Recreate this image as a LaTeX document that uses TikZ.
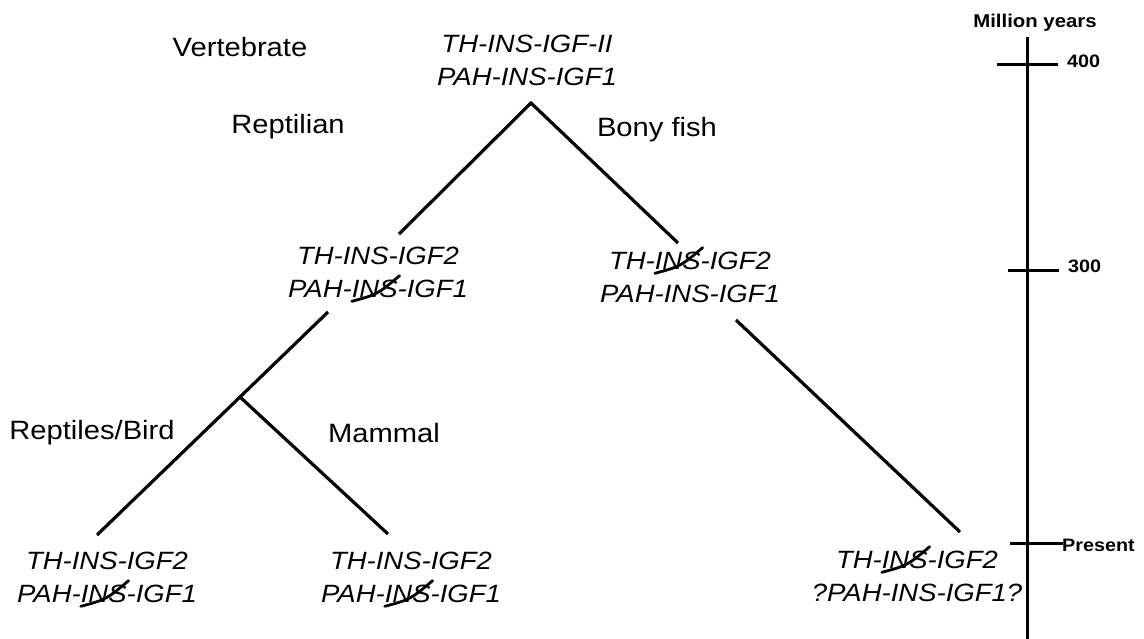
\documentclass[tikz,border=0pt]{standalone}
\usepackage{fontspec}
\setmainfont{Liberation Sans}[FakeStretch=1.1]
\usetikzlibrary{calc}

% a gene name struck through by a hand-drawn stroke
\newcommand\lostgene[1]{\tikz[x=1pt,y=1pt,baseline=(w.base)]{%
  \node[inner sep=0pt,outer sep=0pt] (w) {#1};%
  \draw[overlay,line width=2.8pt,line cap=round]
    ($(w.south west)+(0,-4)$) .. controls ($(w.south west)!0.45!(w.north east)+(5,-5)$) .. ($(w.north east)+(2,4)$);}}

\begin{document}
\begin{tikzpicture}[x=1pt,y=-1pt,
  gene/.style={font=\fontsize{25}{33}\selectfont\itshape, align=center, inner sep=0pt},
  clade/.style={font=\fontsize{26.5}{30}\selectfont, inner sep=0pt},
  branch/.style={line width=3.2pt},
  scalebar/.style={line width=3pt},
  agelabel/.style={font=\fontsize{18}{21}\selectfont\bfseries, inner sep=0pt, anchor=west},
]
\useasboundingbox (0,0) rectangle (1144,638);

% gene arrangements
\node[gene] (root) at (527,60) {TH-INS-IGF-II\\PAH-INS-IGF1};
\node[gene] (rept) at (378,272) {TH-INS-IGF2\\PAH-\lostgene{INS}-IGF1};
\node[gene] (fish) at (690,277) {TH-\lostgene{INS}-IGF2\\PAH-INS-IGF1};
\node[gene] (bird) at (107,577) {TH-INS-IGF2\\PAH-\lostgene{INS}-IGF1};
\node[gene] (mamm) at (411,577) {TH-INS-IGF2\\PAH-\lostgene{INS}-IGF1};
\node[gene] (tele) at (917,576) {TH-\lostgene{INS}-IGF2\\?PAH-INS-IGF1?};

% lineage names
\node[clade] (lvert) at (240,47) {Vertebrate};
\node[clade] (lrept) at (288,127) {Reptilian};
\node[clade] (lfish) at (657,130) {Bony fish};
\node[clade] (lbird) at (92,433) {Reptiles/Bird};
\node[clade] (lmamm) at (384,433) {Mammal};

% tree branches
\coordinate (apex) at (531,103);
\coordinate (rootL) at (399,234);
\coordinate (rootR) at (678,243);
\coordinate (reptD) at (328,312);
\coordinate (split) at (240,397);
\coordinate (birdU) at (97,535);
\coordinate (mammU) at (388,534);
\coordinate (fishD) at (736,320);
\coordinate (teleU) at (960,532);
\draw[branch] (rootL) -- (apex) -- (rootR);
\draw[branch] (reptD) -- (split);
\draw[branch] (birdU) -- (split) -- (mammU);
\draw[branch] (fishD) -- (teleU);

% time axis
\node[font=\fontsize{18.5}{21}\selectfont\bfseries, inner sep=0pt] (myr) at (1035,23) {Million years};
\coordinate (axTop) at (1027,37);
\coordinate (axBot) at (1027,640);
\draw[scalebar] (axTop) -- (axBot);
\coordinate (t400a) at (997,64);   \coordinate (t400b) at (1058,64);
\coordinate (t300a) at (1008,270); \coordinate (t300b) at (1059,270);
\coordinate (t0a) at (1010,543);   \coordinate (t0b) at (1063,543);
\draw[scalebar] (t400a) -- (t400b);
\draw[scalebar] (t300a) -- (t300b);
\draw[scalebar] (t0a) -- (t0b);
\node[agelabel] (l400) at (1067,61) {400};
\node[agelabel] (l300) at (1068,266) {300};
\node[agelabel] (l0) at (1062,545) {Present};
\end{tikzpicture}
\end{document}
